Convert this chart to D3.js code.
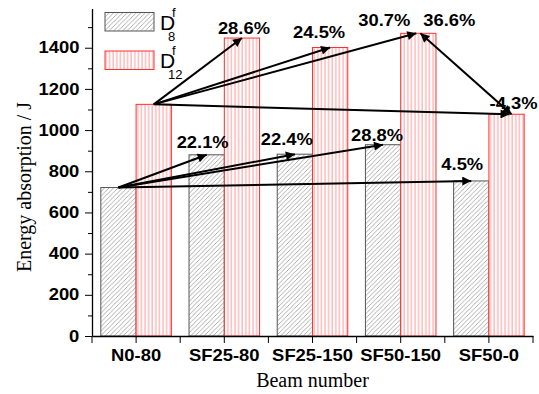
<!DOCTYPE html>
<html>
<head>
<meta charset="utf-8">
<script src="https://cdn.jsdelivr.net/npm/d3@7"></script>
<style>
  body { margin: 0; background: #fff; }
  svg { display: block; }
  .tick text { font-family: "Liberation Sans", Arial, sans-serif; font-weight: bold; font-size: 16px; fill: #000; }
  .pct { font-family: "Liberation Sans", Arial, sans-serif; font-weight: bold; font-size: 17px; fill: #000; }
  .title { font-family: "Liberation Serif", "Times New Roman", serif; font-size: 20px; fill: #000; }
</style>
</head>
<body>
<div id="chart"></div>
<script>
// data
var beams = ['N0-80', 'SF25-80', 'SF25-150', 'SF50-150', 'SF50-0'];
var d8 = [721, 880, 883, 929, 753];
var d12 = [1125, 1447, 1401, 1470, 1077];
var d8_labels = ['22.1%', '22.4%', '28.8%', '4.5%'];
var d12_labels = ['28.6%', '24.5%', '30.7%', '-4.3%'];
var pair_label = '36.6%';
var y_ticks = [0, 200, 400, 600, 800, 1000, 1200, 1400];
var y_minor = [100, 300, 500, 700, 900, 1100, 1300, 1500];

var settings = {
  width: 539,
  height: 394,
  left: 92,
  right: 533,
  top: 8.6,
  bottom: 336,
  y_max: 1590,
  bar_frac: 0.4,
  grey_line: '#999999',
  grey_edge: '#555555',
  red_line: '#ff9a9a',
  red_edge: '#ff3030'
};

// label offsets from the bar top they point at: [dx, dy]
var d8_offsets = [[-4, -7], [-8, -9], [-6, -4], [-9, -11]];
var d12_offsets = [[2, -4], [-11, -10], [-34, -7], [7, -5]];
var pair_offset = [31, -7];

var svg = d3.select('#chart').append('svg')
  .attr('width', settings.width)
  .attr('height', settings.height);

var defs = svg.append('defs');

var gp = defs.append('pattern')
  .attr('id', 'hatch-grey')
  .attr('patternUnits', 'userSpaceOnUse')
  .attr('width', 4.5)
  .attr('height', 4.5);
gp.append('rect').attr('width', 4.5).attr('height', 4.5).attr('fill', '#fff');
gp.append('path')
  .attr('d', 'M0,4.5 L4.5,0 M-1,1 L1,-1 M3.5,5.5 L5.5,3.5')
  .attr('stroke', settings.grey_line)
  .attr('stroke-width', 0.8);

var rp = defs.append('pattern')
  .attr('id', 'hatch-red')
  .attr('patternUnits', 'userSpaceOnUse')
  .attr('width', 3.6)
  .attr('height', 10);
rp.append('rect').attr('width', 3.6).attr('height', 10).attr('fill', '#fff');
rp.append('line')
  .attr('x1', 1).attr('x2', 1).attr('y1', 0).attr('y2', 10)
  .attr('stroke', settings.red_line)
  .attr('stroke-width', 1);

var marker = defs.append('marker')
  .attr('id', 'head')
  .attr('viewBox', '0 0 10 10')
  .attr('refX', 10)
  .attr('refY', 5)
  .attr('markerUnits', 'userSpaceOnUse')
  .attr('markerWidth', 12)
  .attr('markerHeight', 9)
  .attr('orient', 'auto-start-reverse');
marker.append('path').attr('d', 'M0,0 L10,5 L0,10 Z').attr('fill', '#000');

var x = d3.scaleBand()
  .domain(beams)
  .range([settings.left, settings.right])
  .padding(0);

var y = d3.scaleLinear()
  .domain([0, settings.y_max])
  .range([settings.bottom, settings.top]);

var bw = x.bandwidth() * settings.bar_frac;
var cx = function(i) { return x(beams[i]) + x.bandwidth() / 2; };

// bars
svg.selectAll('rect.d8')
  .data(d8)
  .enter().append('rect')
  .attr('class', 'd8')
  .attr('x', function(d, i) { return cx(i) - bw; })
  .attr('y', function(d) { return y(d); })
  .attr('width', bw)
  .attr('height', function(d) { return y(0) - y(d); })
  .attr('fill', 'url(#hatch-grey)')
  .attr('stroke', settings.grey_edge)
  .attr('stroke-width', 1);

svg.selectAll('rect.d12')
  .data(d12)
  .enter().append('rect')
  .attr('class', 'd12')
  .attr('x', function(d, i) { return cx(i); })
  .attr('y', function(d) { return y(d); })
  .attr('width', bw)
  .attr('height', function(d) { return y(0) - y(d); })
  .attr('fill', 'url(#hatch-red)')
  .attr('stroke', settings.red_edge)
  .attr('stroke-width', 1);

// axes
var yAxis = svg.append('g')
  .attr('transform', 'translate(' + settings.left + ',0)')
  .call(d3.axisLeft(y).tickValues(y_ticks).tickFormat(d3.format('d'))
    .tickSize(7).tickPadding(4).tickSizeOuter(0));
yAxis.selectAll('.tick text').attr('transform', 'scale(1.15,1)');

svg.append('g')
  .attr('transform', 'translate(' + settings.left + ',0)')
  .call(d3.axisLeft(y).tickValues(y_minor).tickSize(4).tickFormat('').tickSizeOuter(0))
  .select('.domain').remove();

var xAxis = svg.append('g')
  .attr('transform', 'translate(0,' + settings.bottom + ')')
  .call(d3.axisBottom(x).tickSize(7).tickPadding(7).tickSizeOuter(0));
xAxis.selectAll('.tick text').attr('transform', 'scale(1.15,1)');

var edges = d3.range(beams.length + 1).map(function(i) {
  return settings.left + i * x.bandwidth();
});
svg.append('g')
  .selectAll('line')
  .data(edges)
  .enter().append('line')
  .attr('x1', function(d) { return d; })
  .attr('x2', function(d) { return d; })
  .attr('y1', settings.bottom)
  .attr('y2', settings.bottom + 7)
  .attr('stroke', '#000');

svg.selectAll('.domain').attr('stroke-width', 1.3);

// arrows
var arrows = svg.append('g')
  .attr('stroke', '#000')
  .attr('stroke-width', 2)
  .attr('fill', 'none');

var g0 = [cx(0) - bw / 2, y(d8[0])];
var r0 = [cx(0) + bw / 2, y(d12[0])];

d8.slice(1).forEach(function(v, k) {
  var i = k + 1;
  arrows.append('line')
    .attr('x1', g0[0]).attr('y1', g0[1])
    .attr('x2', cx(i) - bw / 2).attr('y2', y(v))
    .attr('marker-end', 'url(#head)');
});

d12.slice(1).forEach(function(v, k) {
  var i = k + 1;
  var tx = cx(i) + bw / 2 + (i === 3 ? -2 : 0) + (i === 4 ? 3 : 0);
  arrows.append('line')
    .attr('x1', r0[0]).attr('y1', r0[1])
    .attr('x2', tx).attr('y2', y(v))
    .attr('marker-end', 'url(#head)');
});

arrows.append('line')
  .attr('x1', cx(3) + bw / 2 + 2).attr('y1', y(d12[3]))
  .attr('x2', cx(4) + bw / 2 + 5).attr('y2', y(d12[4]))
  .attr('marker-start', 'url(#head)')
  .attr('marker-end', 'url(#head)');

// percent labels
var pct = svg.append('g');
d8_labels.forEach(function(t, k) {
  var i = k + 1;
  pct.append('text')
    .attr('class', 'pct')
    .attr('text-anchor', 'middle')
    .attr('transform', 'translate(' + (cx(i) - bw / 2 + d8_offsets[k][0]) + ',' + (y(d8[i]) + d8_offsets[k][1]) + ') scale(1.08,1)')
    .text(t);
});
d12_labels.forEach(function(t, k) {
  var i = k + 1;
  pct.append('text')
    .attr('class', 'pct')
    .attr('text-anchor', 'middle')
    .attr('transform', 'translate(' + (cx(i) + bw / 2 + d12_offsets[k][0]) + ',' + (y(d12[i]) + d12_offsets[k][1]) + ') scale(1.08,1)')
    .text(t);
});
pct.append('text')
  .attr('class', 'pct')
  .attr('text-anchor', 'middle')
  .attr('transform', 'translate(' + (cx(3) + bw / 2 + pair_offset[0]) + ',' + (y(d12[3]) + pair_offset[1]) + ') scale(1.08,1)')
  .text(pair_label);

// axis titles
svg.append('text')
  .attr('class', 'title')
  .attr('text-anchor', 'middle')
  .attr('transform', 'translate(31,187) rotate(-90)')
  .text('Energy absorption / J');

svg.append('text')
  .attr('class', 'title')
  .attr('text-anchor', 'middle')
  .attr('x', (settings.left + settings.right) / 2)
  .attr('y', 387)
  .text('Beam number');

// legend
var legend = [
  { fill: 'url(#hatch-grey)', stroke: settings.grey_edge, sub: '8' },
  { fill: 'url(#hatch-red)', stroke: settings.red_edge, sub: '12' }
];
var lg = svg.selectAll('g.legend')
  .data(legend)
  .enter().append('g')
  .attr('class', 'legend')
  .attr('transform', function(d, i) { return 'translate(105,' + (12.5 + i * 38.5) + ')'; });

lg.append('rect')
  .attr('width', 49)
  .attr('height', 18.5)
  .attr('fill', function(d) { return d.fill; })
  .attr('stroke', function(d) { return d.stroke; });

var lt = lg.append('text')
  .attr('x', 55)
  .attr('y', 17)
  .style('font-family', '"Liberation Sans", Arial, sans-serif')
  .style('font-size', '21px');
lt.append('tspan').text('D');
lt.append('tspan')
  .attr('x', 67).attr('y', 4)
  .style('font-size', '13px')
  .text('f');
lt.append('tspan')
  .attr('x', 63).attr('y', 28)
  .style('font-size', '13px')
  .text(function(d) { return d.sub; });
</script>
</body>
</html>
